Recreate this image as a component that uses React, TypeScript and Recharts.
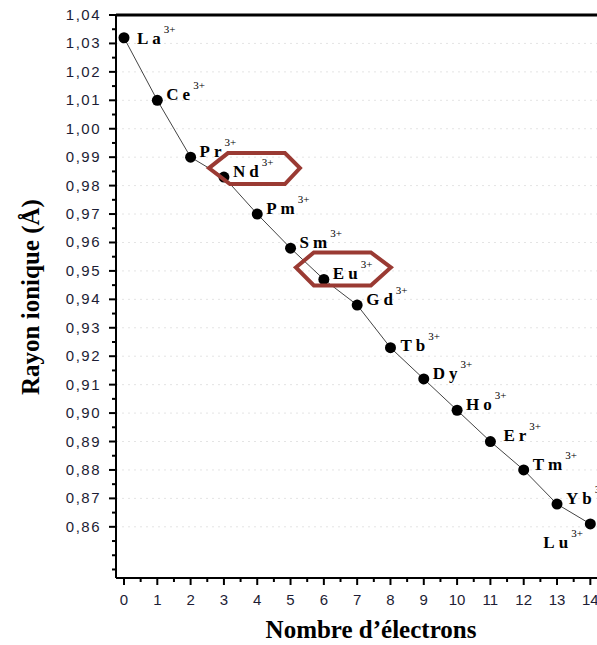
import React from 'react';
import { ComposedChart, Line, XAxis, YAxis, CartesianGrid, ReferenceLine, LabelList } from 'recharts';

// lanthanide ions, number of 4f electrons, ionic radius (Å)
const electrons = [0, 1, 2, 3, 4, 5, 6, 7, 8, 9, 10, 11, 12, 13, 14];
const elements = ['La', 'Ce', 'Pr', 'Nd', 'Pm', 'Sm', 'Eu', 'Gd', 'Tb', 'Dy', 'Ho', 'Er', 'Tm', 'Yb', 'Lu'];
const ionicRadius = [1.032, 1.01, 0.99, 0.983, 0.97, 0.958, 0.947, 0.938, 0.923, 0.912, 0.901, 0.89, 0.88, 0.868, 0.861];
const highlighted = ['Nd', 'Eu'];

const xMajor = [0, 1, 2, 3, 4, 5, 6, 7, 8, 9, 10, 11, 12, 13, 14];
const xTicks = [0, 0.5, 1, 1.5, 2, 2.5, 3, 3.5, 4, 4.5, 5, 5.5, 6, 6.5, 7, 7.5, 8, 8.5, 9, 9.5, 10, 10.5, 11, 11.5, 12, 12.5, 13, 13.5, 14];
const yMajor = [0.86, 0.87, 0.88, 0.89, 0.9, 0.91, 0.92, 0.93, 0.94, 0.95, 0.96, 0.97, 0.98, 0.99, 1.0, 1.01, 1.02, 1.03, 1.04];
const yTicks = [
    0.845, 0.85, 0.855, 0.86, 0.865, 0.87, 0.875, 0.88, 0.885, 0.89, 0.895, 0.9, 0.905, 0.91, 0.915, 0.92, 0.925,
    0.93, 0.935, 0.94, 0.945, 0.95, 0.955, 0.96, 0.965, 0.97, 0.975, 0.98, 0.985, 0.99, 0.995, 1.0, 1.005, 1.01,
    1.015, 1.02, 1.025, 1.03, 1.035, 1.04,
];

const data = electrons.map((n, i) => ({ n, r: ionicRadius[i], name: elements[i] }));

// label placement tweaks (pixels relative to the point)
const labelOffset: Record<string, { dx: number; dy: number }> = {
    La: { dx: 13, dy: 6 },
    Er: { dx: 13, dy: -1 },
    Tb: { dx: 10, dy: 3 },
    Lu: { dx: -47, dy: 24 },
};
// hexagon outlines around highlighted ions, relative to the point
const hexOffset: Record<string, number[][]> = {
    Nd: [[-15, -9], [4, -24], [61, -24], [76, -9], [61, 7], [6, 7]],
    Eu: [[-28, -12], [-10, -27], [47, -27], [67, -12], [47, 6], [-10, 6]],
};

const SERIF = '"Liberation Serif", "Times New Roman", serif';
const SANS = '"Liberation Sans", Arial, sans-serif';
const TICK_COLOR = '#1d1d35';

const isIn = (arr: number[], v: number) => arr.some((m) => Math.abs(m - v) < 1e-6);

const YTick = (props: any) => {
    const { x, y, payload } = props;
    const major = isIn(yMajor, payload.value);
    return (
        <g>
            <line x1={x - (major ? 7 : 4)} x2={x} y1={y} y2={y} stroke="#000" strokeWidth={2} />
            {major && (
                <text x={x - 15} y={y} dy={5} textAnchor="end" fontFamily={SANS} fontSize={15} letterSpacing={1.5} fill={TICK_COLOR}>
                    {payload.value.toFixed(2).replace('.', ',')}
                </text>
            )}
        </g>
    );
};

const XTick = (props: any) => {
    const { x, y, payload } = props;
    const major = isIn(xMajor, payload.value);
    return (
        <g>
            <line x1={x} x2={x} y1={y} y2={y + (major ? 7 : 4)} stroke="#000" strokeWidth={2} />
            {major && (
                <text x={x} y={y + 27} textAnchor="middle" fontFamily={SANS} fontSize={15} fill={TICK_COLOR}>
                    {payload.value}
                </text>
            )}
        </g>
    );
};

const IonLabel = (props: any) => {
    const { x, y, index } = props;
    const name = elements[index];
    const off = labelOffset[name] || { dx: 9, dy: 0 };
    const hex = highlighted.includes(name) ? hexOffset[name] : null;
    return (
        <g>
            {hex && (
                <polygon
                    points={hex.map(([a, b]) => `${x + a},${y + b}`).join(' ')}
                    fill="none"
                    stroke="#9a3a33"
                    strokeWidth={4}
                />
            )}
            <text x={x + off.dx} y={y + off.dy} fontFamily={SERIF} fill="#000">
                <tspan fontSize={17} fontWeight="bold" letterSpacing={4}>{name}</tspan>
                <tspan fontSize={11} dx={-1} dy={-11}>3+</tspan>
            </text>
        </g>
    );
};

export default function App() {
    return (
        <div style={{ position: 'absolute', left: 0, top: 0, background: '#fff' }}>
            <ComposedChart width={597} height={645} data={data} margin={{ top: 15, right: 0, left: 0, bottom: 0 }}>
                <CartesianGrid
                    vertical={false}
                    horizontalValues={yMajor}
                    stroke="#e4e4e4"
                    strokeDasharray="2 4"
                />
                <XAxis
                    dataKey="n"
                    type="number"
                    domain={[-0.24, 14.2]}
                    allowDataOverflow
                    ticks={xTicks}
                    interval={0}
                    tick={<XTick />}
                    tickLine={false}
                    tickSize={0}
                    tickMargin={0}
                    height={67}
                    axisLine={{ stroke: '#000', strokeWidth: 2 }}
                    label={{
                        content: () => (
                            <text x={371} y={638} textAnchor="middle" fontFamily={SERIF} fontWeight="bold" fontSize={25} fill="#000">
                                Nombre d’électrons
                            </text>
                        ),
                    }}
                />
                <YAxis
                    type="number"
                    domain={[0.842, 1.04]}
                    allowDataOverflow
                    ticks={yTicks}
                    interval={0}
                    tick={<YTick />}
                    tickLine={false}
                    tickSize={0}
                    tickMargin={0}
                    width={116}
                    axisLine={{ stroke: '#000', strokeWidth: 2 }}
                    label={{
                        content: () => (
                            <text
                                x={0}
                                y={0}
                                transform="translate(39,297) rotate(-90)"
                                textAnchor="middle"
                                fontFamily={SERIF}
                                fontWeight="bold"
                                fontSize={25}
                                fill="#000"
                            >
                                Rayon ionique (Å)
                            </text>
                        ),
                    }}
                />
                <ReferenceLine y={1.04} stroke="#000" strokeWidth={3} />
                <Line
                    type="linear"
                    dataKey="r"
                    stroke="#444"
                    strokeWidth={1}
                    dot={{ r: 5.5, fill: '#000', stroke: 'none' }}
                    isAnimationActive={false}
                >
                    <LabelList dataKey="r" content={<IonLabel />} />
                </Line>
            </ComposedChart>
        </div>
    );
}
